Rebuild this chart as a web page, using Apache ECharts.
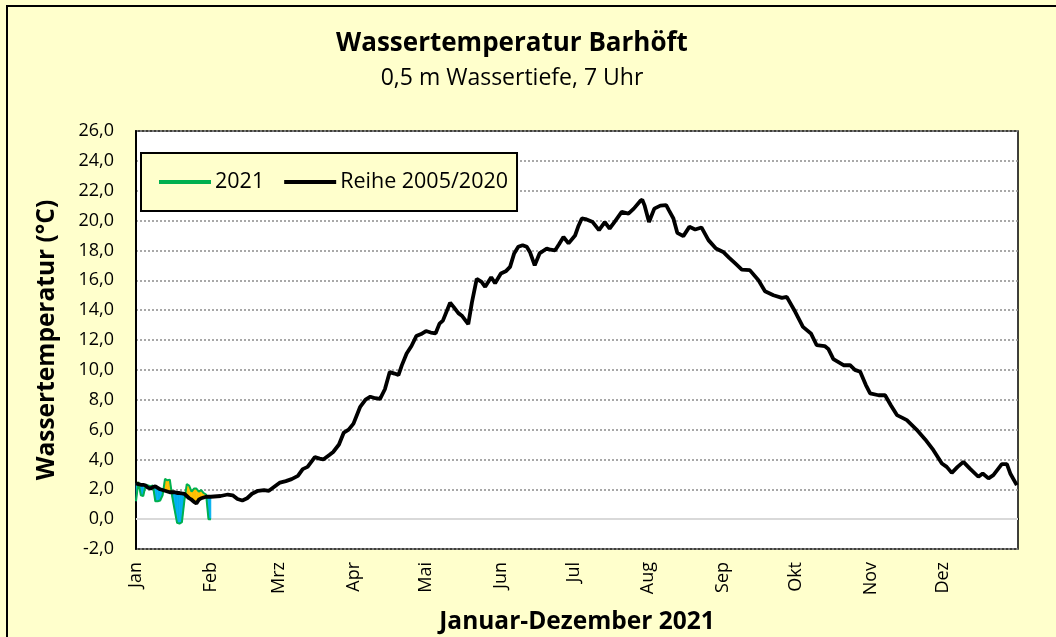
<!DOCTYPE html>
<html>
<head>
<meta charset="utf-8">
<script src="https://cdn.jsdelivr.net/npm/echarts@6/dist/echarts.min.js"></script>
<style>
  html, body { margin: 0; padding: 0; background: #FFFFCC; }
  #chart { width: 1056px; height: 637px; }
</style>
</head>
<body>
<div id="chart"></div>
<script>
  // Monatsbeschriftung der x-Achse (Tag im Jahr, ab 0 = 1. Januar)
  var monthLabels = ['Jan', 'Feb', 'Mrz', 'Apr', 'Mai', 'Jun', 'Jul', 'Aug', 'Sep', 'Okt', 'Nov', 'Dez'];
  var monthStarts = [0, 31, 59, 90, 120, 151, 181, 212, 243, 273, 304, 334];

  // Messwerte 2021 (Januar, täglich)
  var days2021 = [0, 1, 2, 3, 4, 5, 6, 7, 8, 9, 10, 11, 12, 13, 14, 15,
    16, 17, 18, 19, 20, 21, 22, 23, 24, 25, 26, 27, 28, 29, 30, 31];
  var temp2021 = [1.2, 2.5, 1.6, 1.55, 2.3, 2.25, 2.2, 2.25, 1.2, 1.2, 1.25, 1.6, 2.7, 2.6, 2.65, 1.5,
    0.6, -0.25, -0.3, -0.2, 1.2, 2.35, 2.25, 1.85, 2.05, 2.05, 1.85, 1.95, 1.75, 1.65, 0.0, 0.0];

  // Reihe 2005/2020 (Tag im Jahr / Temperatur)
  var refDays = [0, 1, 2, 3, 4, 5, 6, 7, 8, 9, 10, 11, 12, 13, 14, 15,
    16, 17, 18, 19, 20, 21, 22, 23, 24, 25, 26, 27, 28, 29, 30, 31,
    35, 38, 40, 42, 44, 46, 48, 50.5, 53, 55, 57.5, 59.6, 62, 64.4, 67, 69, 71, 74, 76, 77.5,
    80, 81.6, 84, 86, 88, 90, 92.7, 95, 97, 99, 101, 103, 105, 107, 108.6, 110, 112, 114,
    116, 118, 120, 122, 124, 125.6, 127, 130, 131.5, 133.4, 135, 137.5, 139, 141, 143,
    144.5, 147, 148.6, 151, 153, 154.8, 156.5, 158.2, 160, 161.7, 163, 165, 167, 170,
    171.5, 173.4, 175, 176.9, 179, 181.7, 183, 184.5, 186, 189, 191.6, 194, 196, 198,
    201, 203.8, 206, 208.6, 209.5, 210.5, 212.3, 214.5, 217, 219.4, 220.5, 222.4, 224,
    226.5, 229, 231.4, 234, 236.9, 240, 243, 245.5, 248, 250.7, 254, 257.6, 260.3, 263.8,
    267.3, 269.3, 272.8, 276, 279.3, 281.7, 285, 286.5, 288.6, 292.8, 295.5, 297.5, 299.7,
    302, 303.8, 307.3, 310, 312.5, 314.9, 317, 319, 323, 326.6, 330, 333.5, 335.5, 337.6,
    340, 342.4, 345, 348.6, 350.4, 352.8, 354.8, 358.3, 360.4, 361.8, 364.5];
  var refTemps = [2.4, 2.35, 2.3, 2.3, 2.25, 2.1, 2.05, 2.15, 2.2, 2.1, 2.0, 1.95, 1.9, 1.85, 1.8, 1.8,
    1.8, 1.75, 1.75, 1.72, 1.7, 1.55, 1.4, 1.3, 1.15, 1.05, 1.3, 1.4, 1.45, 1.5, 1.5, 1.5,
    1.55, 1.65, 1.6, 1.35, 1.25, 1.4, 1.7, 1.9, 1.95, 1.9, 2.2, 2.45, 2.55, 2.68, 2.9, 3.35, 3.5, 4.15, 4.05, 4.0,
    4.3, 4.5, 5.0, 5.8, 6.0, 6.4, 7.5, 8.0, 8.2, 8.1, 8.05, 8.7, 9.85, 9.75, 9.65, 10.3, 11.1, 11.6,
    12.26, 12.4, 12.6, 12.5, 12.45, 13.1, 13.3, 14.5, 14.2, 13.8, 13.6, 13.06, 14.5, 16.1, 15.9,
    15.56, 16.2, 15.8, 16.45, 16.6, 16.9, 17.8, 18.24, 18.35, 18.24, 17.9, 17.0, 17.8, 18.13,
    18.05, 18.0, 18.4, 18.9, 18.47, 19.0, 19.6, 20.14, 20.1, 19.9, 19.36, 19.9, 19.47, 19.9,
    20.58, 20.47, 20.8, 21.3, 21.4, 21.0, 19.9, 20.8, 21.0, 21.03, 20.7, 20.14, 19.18,
    18.96, 19.58, 19.4, 19.54, 18.69, 18.13, 17.9, 17.5, 17.13, 16.72, 16.68, 16.0, 15.27, 15.0,
    14.82, 14.89, 13.89, 12.88, 12.44, 11.65, 11.59, 11.4, 10.72, 10.31, 10.31, 10.0, 9.87,
    9.0, 8.42, 8.3, 8.3, 7.6, 6.97, 6.8, 6.63, 6.0, 5.34, 4.62, 3.73, 3.5, 3.1,
    3.5, 3.84, 3.4, 2.84, 3.06, 2.73, 2.95, 3.68, 3.68, 3.06, 2.28];

  var font = 'Open Sans';
  var warmColor = '#FFC000';
  var coldColor = '#00B0F0';

  // Segmente zwischen 2021 und Reihe: [d0, t0, r0, d1, t1, r1]
  var fillSegments = [], line2021 = [], lineRef = [];
  days2021.forEach(function (d, i) {
    line2021.push([d, temp2021[i]]);
    if (i < days2021.length - 1) {
      var dn = days2021[i + 1];
      fillSegments.push([d, temp2021[i], refTemps[refDays.indexOf(d)],
        dn, temp2021[i + 1], refTemps[refDays.indexOf(dn)]]);
    }
  });
  refDays.forEach(function (d, i) { lineRef.push([d, refTemps[i]]); });

  function renderFill(params, api) {
    var d0 = api.value(0), t0 = api.value(1), r0 = api.value(2);
    var d1 = api.value(3), t1 = api.value(4), r1 = api.value(5);
    var e0 = t0 - r0, e1 = t1 - r1;
    var polys = [];
    if (e0 * e1 < 0) {
      // Schnittpunkt der beiden Linien
      var f = e0 / (e0 - e1);
      var dc = d0 + f * (d1 - d0), vc = r0 + f * (r1 - r0);
      polys.push({ pts: [[d0, t0], [dc, vc], [d0, r0]], up: e0 > 0 });
      polys.push({ pts: [[dc, vc], [d1, t1], [d1, r1]], up: e1 > 0 });
    } else {
      polys.push({ pts: [[d0, t0], [d1, t1], [d1, r1], [d0, r0]], up: (e0 + e1) > 0 });
    }
    return {
      type: 'group',
      children: polys.map(function (p) {
        var c = p.up ? warmColor : coldColor;
        return {
          type: 'polygon',
          shape: { points: p.pts.map(function (pt) { return api.coord(pt); }) },
          style: { fill: c, stroke: c, lineWidth: 0.6 }
        };
      })
    };
  }

  var chart = echarts.init(document.getElementById('chart'));
  chart.setOption({
    animation: false,
    backgroundColor: '#FFFFCC',
    textStyle: { fontFamily: font, color: '#000' },
    graphic: [{
      type: 'rect',
      shape: { x: 7, y: 6, width: 1060, height: 640 },
      style: { fill: 'none', stroke: '#000', lineWidth: 2 },
      silent: true
    }],
    title: {
      text: 'Wassertemperatur Barhöft',
      subtext: '0,5 m Wassertiefe, 7 Uhr',
      left: 512,
      top: 31,
      padding: 0,
      textAlign: 'center',
      itemGap: 10,
      textStyle: { fontFamily: font, fontSize: 26, fontWeight: 'bold', color: '#000' },
      subtextStyle: { fontFamily: font, fontSize: 23, color: '#000' }
    },
    legend: {
      data: ['2021', 'Reihe 2005/2020'],
      left: 141,
      top: 153,
      padding: [18, 9, 18, 18],
      itemGap: 20,
      itemWidth: 52,
      itemHeight: 4,
      icon: 'rect',
      backgroundColor: '#FFFFCC',
      borderColor: '#000',
      borderWidth: 2,
      borderRadius: 0,
      textStyle: { fontFamily: font, fontSize: 21.5, color: '#000', padding: [0, 0, 0, -1] }
    },
    grid: {
      left: 136, right: 38, top: 131, bottom: 88,
      outerBoundsMode: 'none',
      show: true,
      backgroundColor: '#fff',
      borderColor: '#000',
      borderWidth: 1.5
    },
    xAxis: {
      type: 'value',
      min: 0,
      max: 365,
      name: 'Januar-Dezember 2021',
      nameLocation: 'middle',
      nameGap: 61,
      nameTextStyle: { fontFamily: font, fontSize: 24.5, fontWeight: 'bold', color: '#000' },
      axisLine: { show: true, lineStyle: { color: '#000', width: 2 } },
      axisTick: { show: false },
      splitLine: { show: false },
      axisLabel: {
        customValues: monthStarts,
        rotate: 90,
        margin: 13,
        fontSize: 18,
        color: '#000',
        fontFamily: font,
        formatter: function (v) { return monthLabels[monthStarts.indexOf(v)]; }
      }
    },
    yAxis: {
      type: 'value',
      min: -2,
      max: 26,
      interval: 2,
      name: 'Wassertemperatur (°C)',
      nameLocation: 'middle',
      nameGap: 76,
      nameTextStyle: { fontFamily: font, fontSize: 24.5, fontWeight: 'bold', color: '#000' },
      axisLine: { show: true, lineStyle: { color: '#000', width: 2 } },
      axisTick: { show: false },
      axisLabel: {
        fontSize: 18,
        margin: 22,
        color: '#000',
        fontFamily: font,
        formatter: function (v) { return v.toFixed(1).replace('.', ','); }
      },
      splitLine: { show: true, lineStyle: { color: '#8c8c8c', type: [2, 2], width: 1.5 } }
    },
    series: [
      {
        name: 'Abweichung',
        type: 'custom',
        renderItem: renderFill,
        data: fillSegments,
        encode: { x: [0, 3], y: [1, 2, 4, 5] },
        silent: true,
        z: 2,
        markLine: {
          silent: true,
          symbol: 'none',
          label: { show: false },
          lineStyle: { color: '#D9D9D9', width: 2, type: 'solid' },
          data: [{ yAxis: 0 }],
          z: 1
        }
      },
      {
        name: '2021',
        type: 'line',
        data: line2021,
        symbol: 'none',
        color: '#00B050',
        lineStyle: { color: '#00B050', width: 2 },
        z: 4
      },
      {
        name: 'Reihe 2005/2020',
        type: 'line',
        data: lineRef,
        symbol: 'none',
        color: '#000',
        lineStyle: { color: '#000', width: 3.8 },
        z: 5
      }
    ]
  });
</script>
</body>
</html>
